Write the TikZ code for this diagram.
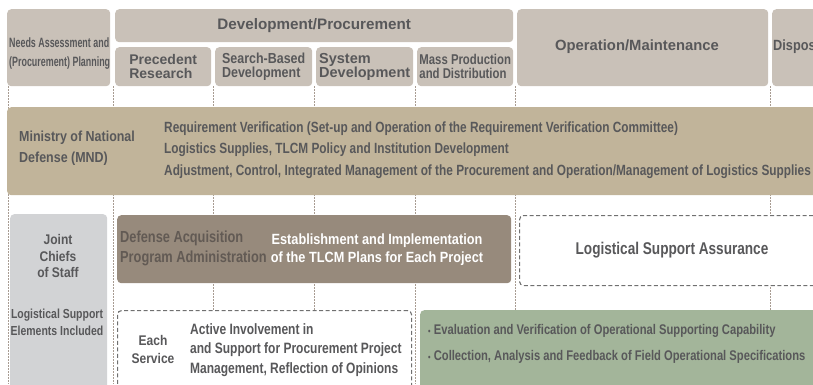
\documentclass[tikz,border=0pt]{standalone}
\usepackage{fontspec}
\setmainfont{Liberation Sans}
\newfontfamily\condfont{Liberation Sans}[FakeStretch=0.86]
\newfontfamily\narrowfont{Liberation Sans}[FakeStretch=0.80]
\newfontfamily\tightfont{Liberation Sans}[FakeStretch=0.66]
\usetikzlibrary{positioning}
\definecolor{HeadGrey}{HTML}{C9C1B8}
\definecolor{MndTan}{HTML}{C1B49A}
\definecolor{DapaBrown}{HTML}{978A7C}
\definecolor{JcsGrey}{HTML}{D2D3D5}
\definecolor{SageGreen}{HTML}{A3B59A}
\definecolor{TextGrey}{HTML}{58585A}
\definecolor{DapaText}{HTML}{625A54}
\definecolor{GuideGrey}{HTML}{A89C92}
\definecolor{DashGrey}{HTML}{707070}

\begin{document}
\begin{tikzpicture}[
    x=1pt, y=-1pt,
    box/.style={rounded corners=4pt, inner sep=0pt, anchor=north west},
    phase/.style={box, fill=HeadGrey},
    dashbox/.style={box, fill=white, draw=DashGrey, line width=1.1pt,
        dash pattern=on 4pt off 2.5pt},
    guide/.style={draw=GuideGrey, line width=0.8pt, dash pattern=on 1.5pt off 1.5pt},
    label/.style={inner sep=0pt, text=TextGrey, font=\bfseries\fontsize{13.5}{13.5}\selectfont},
]
\useasboundingbox (0,0) rectangle (813,384);
\clip (0,0) rectangle (813,384);

% phase guides
\foreach \gx in {8,113,213,314,415,515,770}
    \draw[guide] (\gx,86) -- (\gx,384);

% header row
\node[phase, minimum width=103pt, minimum height=77pt] (needs) at (7,9) {};
\node[phase, minimum width=398pt, minimum height=33pt] (devproc) at (115,9) {};
\node[phase, minimum width=96pt, minimum height=39pt] (prec) at (115,47) {};
\node[phase, minimum width=97pt, minimum height=39pt] (search) at (215,47) {};
\node[phase, minimum width=97pt, minimum height=39pt] (system) at (316,47) {};
\node[phase, minimum width=96pt, minimum height=39pt] (mass) at (417,47) {};
\node[phase, minimum width=251pt, minimum height=77pt] (opmaint) at (517,9) {};
\node[phase, minimum width=90pt, minimum height=77pt] (disposal) at (772,9) {};

\node[label, anchor=west, align=left, font=\tightfont\bfseries\fontsize{13.5}{19}\selectfont]
    (needsT) at (9,54) {Needs Assessment and\\(Procurement) Planning};
\node[label, font=\bfseries\fontsize{15.2}{15}\selectfont] (devprocT) at (devproc) {Development/Procurement};
\node[label, align=left, font=\bfseries\fontsize{14}{14.5}\selectfont] (precT) at (prec) {Precedent\\Research};
\node[label, align=left, font=\condfont\bfseries\fontsize{14.5}{14.5}\selectfont] (searchT) at (search) {Search-Based\\Development};
\node[label, align=left, font=\bfseries\fontsize{14.5}{14.5}\selectfont] (systemT) at (system) {System\\Development};
\node[label, align=left, font=\narrowfont\bfseries\fontsize{14.2}{14}\selectfont] (massT) at (mass) {Mass Production\\and Distribution};
\node[label, font=\bfseries\fontsize{14.8}{14.8}\selectfont] (opmaintT) at (637,47) {Operation/Maintenance};
\node[label, anchor=west, font=\condfont\bfseries\fontsize{14.8}{14.8}\selectfont] (disposalT) at (773,47) {Disposal};

% Ministry of National Defense
\node[box, fill=MndTan, minimum width=840pt, minimum height=88pt] (mnd) at (7,107) {};
\node[label, anchor=west, align=left, font=\condfont\bfseries\fontsize{14.5}{21}\selectfont]
    (mndT) at (19,148) {Ministry of National\\Defense (MND)};
\node[label, anchor=west, align=left, font=\narrowfont\bfseries\fontsize{14.8}{21.5}\selectfont]
    (mndTasks) at (164,150) {Requirement Verification (Set-up and Operation of the Requirement Verification Committee)\\
    Logistics Supplies, TLCM Policy and Institution Development\\
    Adjustment, Control, Integrated Management of the Procurement and Operation/Management of Logistics Supplies};

% Joint Chiefs of Staff
\node[box, fill=JcsGrey, minimum width=97pt, minimum height=190pt] (jcs) at (10,214) {};
\node[label, align=center, font=\condfont\bfseries\fontsize{14}{16.5}\selectfont] (jcsT) at (58,256) {Joint\\Chiefs\\of Staff};
\node[label, align=center, font=\narrowfont\bfseries\fontsize{13.1}{17}\selectfont] (jcsNote) at (57,322) {Logistical Support\\Elements Included};

% Defense Acquisition Program Administration
\node[box, fill=DapaBrown, minimum width=394pt, minimum height=68pt] (dapa) at (117,215) {};
\node[label, anchor=west, align=left, text=DapaText, font=\narrowfont\bfseries\fontsize{16}{20}\selectfont]
    (dapaT) at (120,248) {Defense Acquisition\\Program Administration};
\node[label, align=center, text=white, font=\condfont\bfseries\fontsize{14.8}{18}\selectfont]
    (dapaTask) at (377,250) {Establishment and Implementation\\of the TLCM Plans for Each Project};

% Logistical Support Assurance
\node[dashbox, minimum width=330pt, minimum height=70pt] (lsa) at (519,215) {};
\node[label, font=\narrowfont\bfseries\fontsize{17}{17}\selectfont] (lsaT) at (672,250) {Logistical Support Assurance};

% Each Service
\node[dashbox, minimum width=294pt, minimum height=100pt] (each) at (117,310) {};
\node[label, align=center, font=\condfont\bfseries\fontsize{14}{18}\selectfont] (eachT) at (153,349) {Each\\Service};
\node[label, anchor=west, align=left, font=\narrowfont\bfseries\fontsize{15}{19.5}\selectfont]
    (eachTask) at (190,350) {Active Involvement in\\and Support for Procurement Project\\Management, Reflection of Opinions};

% operational feedback
\node[box, fill=SageGreen, minimum width=420pt, minimum height=100pt] (field) at (420,310) {};
\node[label, anchor=west, align=left, font=\narrowfont\bfseries\fontsize{14}{26}\selectfont]
    (fieldT) at (428,344) {{\fontsize{9}{9}\selectfont\textbullet} Evaluation and Verification of Operational Supporting Capability\\
    {\fontsize{9}{9}\selectfont\textbullet} Collection, Analysis and Feedback of Field Operational Specifications};

\end{tikzpicture}
\end{document}
